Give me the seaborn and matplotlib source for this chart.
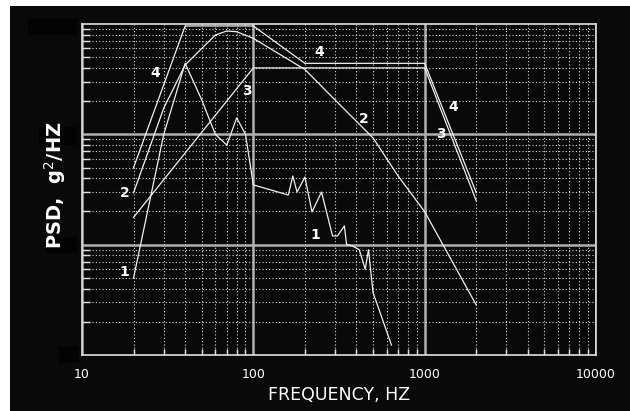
import matplotlib
matplotlib.use("Agg")
import matplotlib.pyplot as plt
from matplotlib.patches import Rectangle
from matplotlib.ticker import LogLocator, NullFormatter
import numpy as np
import pandas as pd
import seaborn as sns

# ---------------- data ----------------
curve1_freq = [20, 30, 40, 50, 60, 70, 80, 90, 100, 160, 170, 180, 200, 220, 250,
               290, 310, 340, 350, 380, 415, 450, 470, 500, 525, 640]
curve1_psd = [0.005, 0.1, 0.44, 0.205, 0.1, 0.080, 0.141, 0.1, 0.0348, 0.0282,
              0.0419, 0.030, 0.041, 0.0198, 0.030, 0.012, 0.012, 0.0148, 0.0101,
              0.0097, 0.0090, 0.0060, 0.0090, 0.00365, 0.00296, 0.00123]

curve2_freq = [20, 30, 40, 50, 60, 70, 80, 100, 200, 300, 500, 700, 1000, 2000]
curve2_psd = [0.0296, 0.173, 0.425, 0.60, 0.794, 0.864, 0.851, 0.741, 0.387,
              0.205, 0.0927, 0.0419, 0.0199, 0.00284]

curve3_freq = [20, 100, 1000, 2000]
curve3_psd = [0.0177, 0.40, 0.40, 0.025]

curve4_freq = [20, 40, 100, 200, 1000, 2000]
curve4_psd = [0.050, 0.96, 0.96, 0.44, 0.44, 0.0296]

x_ticks = [10, 100, 1000, 10000]
x_tick_labels = ["10", "100", "1000", "10000"]
y_major = [0.01, 0.1]

curve_names = ["1", "2", "3", "4"]

BG = "#090909"
FG = "#f0f0f0"

rows = []
for name, fr, ps in zip(curve_names,
                        [curve1_freq, curve2_freq, curve3_freq, curve4_freq],
                        [curve1_psd, curve2_psd, curve3_psd, curve4_psd]):
    for f, p in zip(fr, ps):
        rows.append({"curve": name, "freq": f, "psd": p})
df = pd.DataFrame(rows)

W, H = 630, 411
fig = plt.figure(figsize=(W / 100, H / 100), dpi=100)
fig.patch.set_facecolor("white")


def px_rect(x0, y0, x1, y1, color, z):
    fig.add_artist(Rectangle((x0 / W, 1 - y1 / H), (x1 - x0) / W, (y1 - y0) / H,
                             transform=fig.transFigure, facecolor=color,
                             edgecolor="none", zorder=z))


px_rect(10, 6, 650, 430, BG, -10)
for b in [(28, 18, 78, 35), (39, 127, 77, 145), (45, 237, 78, 253), (58, 346, 79, 363)]:
    px_rect(*b, "#030303", -9)

ax = fig.add_axes([82 / W, 1 - 355 / H, 514 / W, 331 / H])
ax.set_facecolor(BG)
ax.set_xscale("log")
ax.set_yscale("log")

sns.lineplot(data=df, x="freq", y="psd", hue="curve",
             palette={n: FG for n in curve_names}, legend=False, sort=False,
             estimator=None, linewidth=0.9, ax=ax, zorder=5)

ax.set_xlim(10, 10000)
ax.set_ylim(1e-3, 1)

ax.xaxis.set_minor_locator(LogLocator(base=10, subs=np.arange(2, 10)))
ax.yaxis.set_minor_locator(LogLocator(base=10, subs=np.arange(2, 10)))
ax.xaxis.set_minor_formatter(NullFormatter())
ax.yaxis.set_minor_formatter(NullFormatter())
ax.set_xticks(x_ticks)
ax.set_xticklabels(x_tick_labels)
ax.set_yticks(y_major)
ax.set_yticklabels([])

ax.grid(which="minor", linestyle=(0, (1, 2)), color="#d8d8d8", linewidth=0.8)
ax.grid(which="major", linestyle="-", color="#b0b0b0", linewidth=1.8)
ax.set_axisbelow(True)

ax.tick_params(axis="x", which="major", length=0, pad=9, labelsize=9, labelcolor="white")
ax.tick_params(axis="x", which="minor", direction="in", length=4, color="#e0e0e0",
               width=1, top=False)
ax.tick_params(axis="y", which="major", length=0)
ax.tick_params(axis="y", which="minor", direction="in", length=6, color="#e0e0e0",
               width=1, right=False)

for s in ax.spines.values():
    s.set_color("#e0e0e0")
    s.set_linewidth(1.2)

ax.set_xlabel("FREQUENCY, HZ", color="white", fontsize=12.5, labelpad=4)
ax.set_ylabel("")

fig.text(55 / W, 1 - 185.5 / H, "PSD,  g$^{2}$/HZ", rotation=90, color="white",
         fontsize=14, fontweight="bold", ha="center", va="center",
         family=["DejaVu Sans"])

# curve number labels (pixel positions)
label_text = ["4", "2", "1", "3", "4", "2", "1", "4", "3"]
label_px = [(155, 73), (125, 193), (124, 272), (247, 91), (319, 52),
            (364, 119), (315, 235), (453, 107), (441, 134)]
for t, (px, py) in zip(label_text, label_px):
    fig.text(px / W, 1 - py / H, t, color="white", fontsize=10, fontweight="bold",
             ha="center", va="center", zorder=10)

fig.savefig("out.png", dpi=100, facecolor=fig.get_facecolor())
